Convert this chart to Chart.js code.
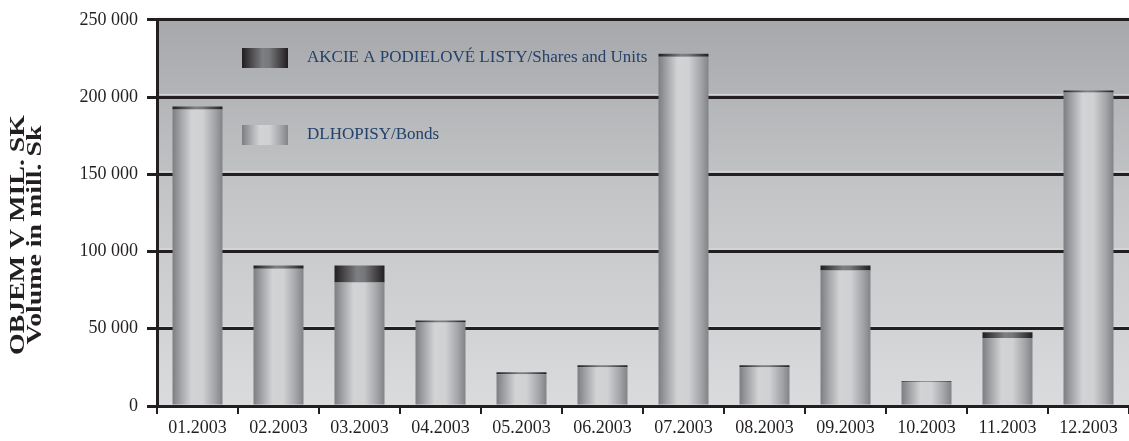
<!DOCTYPE html>
<html>
<head>
<meta charset="utf-8">
<script src="https://cdn.jsdelivr.net/npm/chart.js@4.4.1/dist/chart.umd.min.js"></script>
<style>
  html, body { margin: 0; padding: 0; background: #fff; }
  #wrap { width: 1129px; height: 441px; position: relative; }
</style>
</head>
<body>
<div id="wrap"><canvas id="c" width="1129" height="441"></canvas></div>
<script>
const months = ['01.2003', '02.2003', '03.2003', '04.2003', '05.2003', '06.2003',
                '07.2003', '08.2003', '09.2003', '10.2003', '11.2003', '12.2003'];
// DLHOPISY/Bonds, mil. Sk
const bonds = [191900, 88900, 79900, 54100, 20600, 25100, 226100, 25100, 87700, 15500, 44000, 203000];
// AKCIE A PODIELOVE LISTY/Shares and Units, mil. Sk
const shares = [2000, 2000, 11000, 1300, 1300, 1300, 2000, 1300, 3200, 600, 3700, 1300];
const yTicks = [0, 50000, 100000, 150000, 200000, 250000];

const labelShares = 'AKCIE A PODIELOVÉ LISTY/Shares and Units';
const labelBonds = 'DLHOPISY/Bonds';
const yTitle = ['OBJEM V MIL. SK', 'Volume in mill. Sk'];

const INK = '#231f20';
const SERIF = '"Liberation Serif", "Times New Roman", serif';

function fmt(v) {
  return String(v).replace(/\B(?=(\d{3})+(?!\d))/g, ' ');
}

function bondGrad(ctx, x0, x1) {
  const g = ctx.createLinearGradient(x0, 0, x1, 0);
  g.addColorStop(0, '#7c7e81');
  g.addColorStop(0.18, '#a5a7aa');
  g.addColorStop(0.38, '#d2d3d5');
  g.addColorStop(0.6, '#d0d1d3');
  g.addColorStop(0.85, '#a2a4a7');
  g.addColorStop(1, '#818386');
  return g;
}

function shareGrad(ctx, x0, x1) {
  const g = ctx.createLinearGradient(x0, 0, x1, 0);
  g.addColorStop(0, '#221e1f');
  g.addColorStop(0.45, '#7e7f82');
  g.addColorStop(0.6, '#76777a');
  g.addColorStop(1, '#221e1f');
  return g;
}

function barFill(kind) {
  return (c) => {
    const chart = c.chart;
    const xs = chart.scales.x;
    if (!xs || !chart.chartArea) return kind === 'b' ? '#b0b2b4' : '#555';
    const cx = xs.getPixelForValue(c.dataIndex);
    const w = (xs.width / months.length) * 0.617;
    return kind === 'b' ? bondGrad(chart.ctx, cx - w / 2, cx + w / 2)
                        : shareGrad(chart.ctx, cx - w / 2, cx + w / 2);
  };
}

const plotBg = {
  id: 'plotBg',
  beforeDraw(chart) {
    const { ctx, chartArea: a } = chart;
    const g = ctx.createLinearGradient(0, a.top, 0, a.bottom);
    g.addColorStop(0, '#a7a8ab');
    g.addColorStop(0.45, '#c4c5c7');
    g.addColorStop(1, '#dadbdd');
    ctx.save();
    ctx.fillStyle = g;
    ctx.fillRect(a.left, a.top, a.right - a.left, a.bottom - a.top);
    // light line above every grid line
    const ys = chart.scales.y;
    ctx.fillStyle = 'rgba(235,236,238,0.6)';
    yTicks.forEach(v => {
      if (v === 0) return;
      const y = ys.getPixelForValue(v);
      ctx.fillRect(a.left, y - 3, a.right - a.left, 1);
    });
    ctx.restore();
  }
};

const legendBox = {
  id: 'legendBox',
  afterDraw(chart) {
    const { ctx } = chart;
    ctx.save();
    const items = [
      { y: 48, fill: shareGrad(ctx, 242, 288), text: labelShares },
      { y: 125, fill: bondGrad(ctx, 242, 288), text: labelBonds }
    ];
    ctx.font = '17px ' + SERIF;
    ctx.textBaseline = 'middle';
    items.forEach(it => {
      ctx.fillStyle = it.fill;
      ctx.fillRect(242, it.y, 46, 20);
      ctx.fillStyle = '#22416b';
      ctx.fillText(it.text, 307, it.y + 10);
    });
    ctx.restore();

    // y axis title, two rotated lines
    ctx.save();
    ctx.translate(27, 235);
    ctx.rotate(-Math.PI / 2);
    ctx.fillStyle = INK;
    ctx.font = 'bold 20px ' + SERIF;
    ctx.textAlign = 'center';
    ctx.textBaseline = 'middle';
    const sx = 240 / ctx.measureText(yTitle[0]).width;
    ctx.scale(sx, 1);
    ctx.fillText(yTitle[0], 0, -8);
    ctx.fillText(yTitle[1], 0, 9);
    ctx.restore();
  }
};

new Chart(document.getElementById('c'), {
  type: 'bar',
  data: {
    labels: months,
    datasets: [
      { label: labelBonds, data: bonds, backgroundColor: barFill('b') },
      { label: labelShares, data: shares, backgroundColor: barFill('s') }
    ]
  },
  options: {
    responsive: false,
    animation: false,
    devicePixelRatio: 1,
    layout: { padding: { top: 18, right: 0, left: 0, bottom: 0 } },
    datasets: { bar: { barPercentage: 0.617, categoryPercentage: 1, borderWidth: 0 } },
    plugins: { legend: { display: false }, tooltip: { enabled: false } },
    scales: {
      x: {
        stacked: true,
        afterFit(s) { s.height = 35; },
        border: { display: true, color: INK, width: 3 },
        grid: { offset: true, drawOnChartArea: false, drawTicks: true, tickLength: 8, color: INK, lineWidth: 2 },
        ticks: { color: INK, font: { family: SERIF, size: 18 }, padding: 3, maxRotation: 0 }
      },
      y: {
        stacked: true,
        min: 0,
        max: 250000,
        afterFit(s) { s.width = 157; },
        afterBuildTicks(s) { s.ticks = yTicks.map(v => ({ value: v })); },
        border: { display: true, color: INK, width: 3 },
        grid: { color: INK, lineWidth: 3, tickLength: 10, tickColor: INK, tickWidth: 3 },
        ticks: { color: INK, font: { family: SERIF, size: 18 }, padding: 9, callback: v => fmt(v) }
      }
    }
  },
  plugins: [plotBg, legendBox]
});
</script>
</body>
</html>
